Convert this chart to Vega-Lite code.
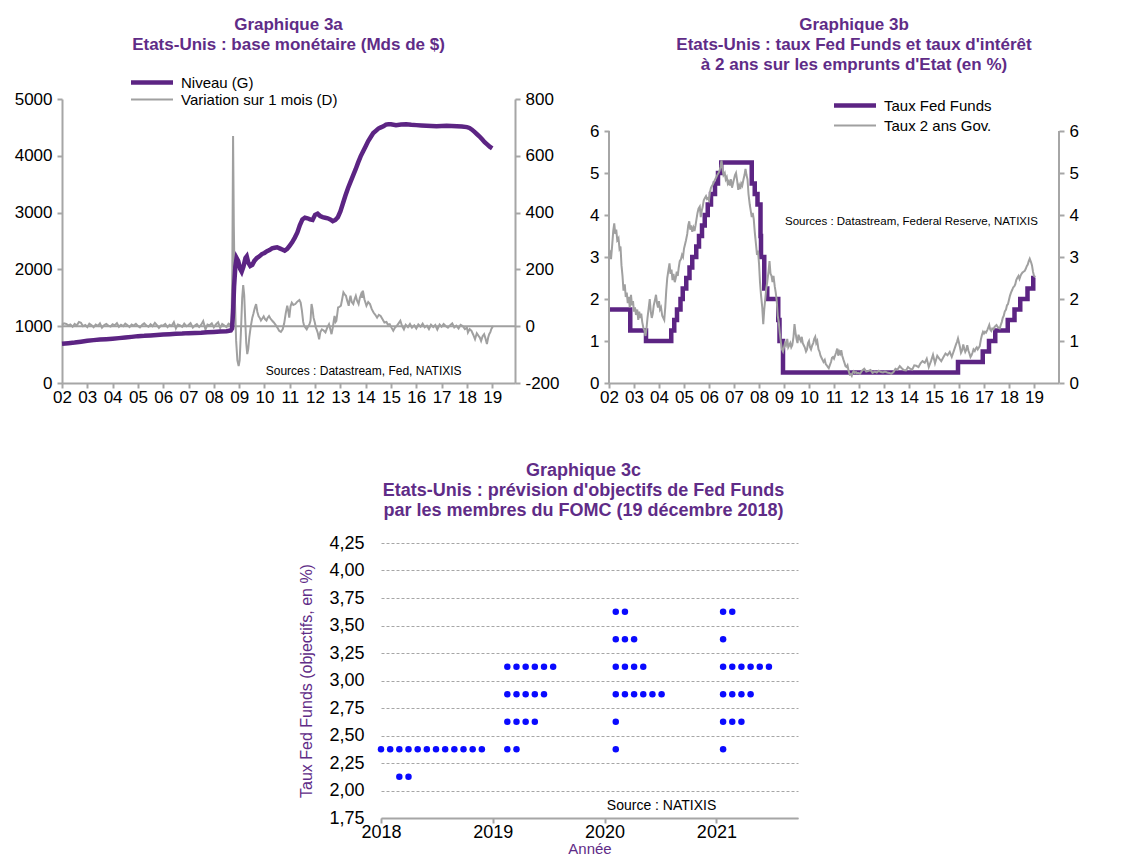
{
  "$schema": "https://vega.github.io/schema/vega-lite/v6.json",
  "background": "white",
  "padding": {"left": 14, "top": 16, "right": 0, "bottom": 0},
  "config": {
    "font": "Liberation Sans",
    "view": {"stroke": null},
    "axis": {"labelFont": "Liberation Sans", "labelFontSize": 17, "labelColor": "#000000", "domainColor": "#A6A6A6", "domainWidth": 2, "tickColor": "#A6A6A6", "tickWidth": 2, "tickSize": 5, "labelPadding": 5, "grid": false, "labelFlush": false, "labelOverlap": false, "titleFont": "Liberation Sans", "tickCount": 60},
    "title": {"font": "Liberation Sans", "fontSize": 17, "fontWeight": "bold", "color": "#5F2C87", "lineHeight": 20, "frame": "group", "anchor": "middle"},
    "legend": {"orient": "none", "labelFont": "Liberation Sans", "labelFontSize": 15, "labelColor": "#000000", "symbolType": "stroke", "symbolSize": 1764, "padding": 0, "labelOffset": 21.5}
  },
  "datasets": {
    "niveau": [
      {"t":2002.0,"v":690},{"t":2002.25,"v":700},{"t":2002.5,"v":712},{"t":2002.75,"v":728},{"t":2003.0,"v":745},{"t":2003.25,"v":755},{"t":2003.5,"v":765},{"t":2003.75,"v":772},{"t":2004.0,"v":780},{"t":2004.25,"v":790},{"t":2004.5,"v":800},{"t":2004.75,"v":812},{"t":2005.0,"v":825},{"t":2005.25,"v":830},{"t":2005.5,"v":838},{"t":2005.75,"v":845},{"t":2006.0,"v":852},{"t":2006.25,"v":858},{"t":2006.5,"v":865},{"t":2006.75,"v":870},{"t":2007.0,"v":878},{"t":2007.25,"v":882},{"t":2007.5,"v":886},{"t":2007.75,"v":893},{"t":2008.0,"v":900},{"t":2008.25,"v":905},{"t":2008.5,"v":912},{"t":2008.67,"v":925},{"t":2008.72,"v":960},{"t":2008.76,"v":1250},{"t":2008.8,"v":1700},{"t":2008.85,"v":2050},{"t":2008.9,"v":2200},{"t":2008.96,"v":2150},{"t":2009.04,"v":2010},{"t":2009.1,"v":1960},{"t":2009.17,"v":2050},{"t":2009.25,"v":2200},{"t":2009.3,"v":2230},{"t":2009.36,"v":2120},{"t":2009.44,"v":2060},{"t":2009.52,"v":2080},{"t":2009.6,"v":2150},{"t":2009.7,"v":2200},{"t":2009.8,"v":2230},{"t":2009.9,"v":2270},{"t":2010.0,"v":2290},{"t":2010.1,"v":2320},{"t":2010.2,"v":2340},{"t":2010.3,"v":2370},{"t":2010.4,"v":2380},{"t":2010.5,"v":2390},{"t":2010.6,"v":2370},{"t":2010.7,"v":2350},{"t":2010.8,"v":2330},{"t":2010.9,"v":2360},{"t":2011.0,"v":2420},{"t":2011.1,"v":2480},{"t":2011.2,"v":2560},{"t":2011.3,"v":2650},{"t":2011.4,"v":2780},{"t":2011.5,"v":2880},{"t":2011.6,"v":2910},{"t":2011.7,"v":2900},{"t":2011.8,"v":2880},{"t":2011.9,"v":2870},{"t":2012.0,"v":2960},{"t":2012.1,"v":2980},{"t":2012.2,"v":2940},{"t":2012.3,"v":2920},{"t":2012.4,"v":2910},{"t":2012.5,"v":2900},{"t":2012.6,"v":2880},{"t":2012.7,"v":2850},{"t":2012.8,"v":2870},{"t":2012.9,"v":2920},{"t":2013.0,"v":3020},{"t":2013.1,"v":3160},{"t":2013.2,"v":3300},{"t":2013.3,"v":3430},{"t":2013.4,"v":3540},{"t":2013.5,"v":3650},{"t":2013.6,"v":3760},{"t":2013.7,"v":3880},{"t":2013.8,"v":3990},{"t":2013.9,"v":4080},{"t":2014.0,"v":4170},{"t":2014.1,"v":4260},{"t":2014.2,"v":4330},{"t":2014.3,"v":4400},{"t":2014.4,"v":4440},{"t":2014.5,"v":4480},{"t":2014.6,"v":4500},{"t":2014.7,"v":4520},{"t":2014.8,"v":4550},{"t":2014.9,"v":4555},{"t":2015.0,"v":4555},{"t":2015.2,"v":4540},{"t":2015.4,"v":4550},{"t":2015.6,"v":4555},{"t":2015.8,"v":4545},{"t":2016.0,"v":4540},{"t":2016.2,"v":4535},{"t":2016.4,"v":4530},{"t":2016.6,"v":4525},{"t":2016.8,"v":4520},{"t":2017.0,"v":4525},{"t":2017.2,"v":4530},{"t":2017.4,"v":4525},{"t":2017.6,"v":4520},{"t":2017.8,"v":4515},{"t":2018.0,"v":4505},{"t":2018.1,"v":4490},{"t":2018.2,"v":4460},{"t":2018.3,"v":4420},{"t":2018.4,"v":4380},{"t":2018.5,"v":4340},{"t":2018.6,"v":4290},{"t":2018.7,"v":4240},{"t":2018.8,"v":4200},{"t":2018.9,"v":4160},{"t":2019.0,"v":4130}
    ],
    "variation": [
      {"t":2002.0,"v":5},{"t":2002.08,"v":10},{"t":2002.17,"v":8},{"t":2002.25,"v":3},{"t":2002.33,"v":6},{"t":2002.42,"v":-2},{"t":2002.5,"v":8},{"t":2002.58,"v":2},{"t":2002.67,"v":15},{"t":2002.75,"v":12},{"t":2002.83,"v":0},{"t":2002.92,"v":4},
      {"t":2003.0,"v":-3},{"t":2003.08,"v":9},{"t":2003.17,"v":3},{"t":2003.25,"v":-4},{"t":2003.33,"v":6},{"t":2003.42,"v":1},{"t":2003.5,"v":10},{"t":2003.58,"v":-5},{"t":2003.67,"v":4},{"t":2003.75,"v":8},{"t":2003.83,"v":2},{"t":2003.92,"v":-1},
      {"t":2004.0,"v":7},{"t":2004.08,"v":3},{"t":2004.17,"v":11},{"t":2004.25,"v":-2},{"t":2004.33,"v":5},{"t":2004.42,"v":0},{"t":2004.5,"v":9},{"t":2004.58,"v":4},{"t":2004.67,"v":-3},{"t":2004.75,"v":6},{"t":2004.83,"v":2},{"t":2004.92,"v":8},
      {"t":2005.0,"v":1},{"t":2005.08,"v":-4},{"t":2005.17,"v":5},{"t":2005.25,"v":10},{"t":2005.33,"v":3},{"t":2005.42,"v":-2},{"t":2005.5,"v":7},{"t":2005.58,"v":0},{"t":2005.67,"v":12},{"t":2005.75,"v":4},{"t":2005.83,"v":-6},{"t":2005.92,"v":3},
      {"t":2006.0,"v":2},{"t":2006.08,"v":8},{"t":2006.17,"v":-3},{"t":2006.25,"v":5},{"t":2006.33,"v":1},{"t":2006.42,"v":14},{"t":2006.5,"v":-8},{"t":2006.58,"v":6},{"t":2006.67,"v":3},{"t":2006.75,"v":-2},{"t":2006.83,"v":9},{"t":2006.92,"v":0},
      {"t":2007.0,"v":4},{"t":2007.08,"v":11},{"t":2007.17,"v":-5},{"t":2007.25,"v":2},{"t":2007.33,"v":7},{"t":2007.42,"v":-3},{"t":2007.5,"v":5},{"t":2007.58,"v":18},{"t":2007.67,"v":-12},{"t":2007.75,"v":6},{"t":2007.83,"v":3},{"t":2007.92,"v":10},
      {"t":2008.0,"v":-4},{"t":2008.08,"v":6},{"t":2008.17,"v":14},{"t":2008.25,"v":-6},{"t":2008.33,"v":8},{"t":2008.42,"v":2},{"t":2008.5,"v":-3},{"t":2008.58,"v":9},{"t":2008.65,"v":4},
      {"t":2008.7,"v":20},{"t":2008.73,"v":200},{"t":2008.76,"v":670},{"t":2008.79,"v":350},{"t":2008.83,"v":100},{"t":2008.88,"v":-50},{"t":2008.93,"v":-120},{"t":2008.98,"v":-140},{"t":2009.02,"v":-120},{"t":2009.07,"v":-20},{"t":2009.12,"v":100},{"t":2009.16,"v":145},{"t":2009.2,"v":110},{"t":2009.24,"v":20},{"t":2009.28,"v":-60},{"t":2009.32,"v":-98},{"t":2009.36,"v":-80},{"t":2009.4,"v":-40},{"t":2009.46,"v":0},{"t":2009.52,"v":30},{"t":2009.56,"v":43},{"t":2009.62,"v":65},{"t":2009.67,"v":78},{"t":2009.72,"v":50},{"t":2009.77,"v":35},{"t":2009.81,"v":30},{"t":2009.86,"v":20},{"t":2009.92,"v":28},{"t":2009.97,"v":35},
      {"t":2010.02,"v":25},{"t":2010.08,"v":20},{"t":2010.13,"v":30},{"t":2010.18,"v":36},{"t":2010.23,"v":28},{"t":2010.3,"v":20},{"t":2010.37,"v":13},{"t":2010.44,"v":5},{"t":2010.51,"v":-5},{"t":2010.58,"v":-16},{"t":2010.65,"v":-20},{"t":2010.72,"v":-11},{"t":2010.78,"v":10},{"t":2010.84,"v":45},{"t":2010.9,"v":72},{"t":2010.94,"v":55},{"t":2010.98,"v":30},
      {"t":2011.03,"v":70},{"t":2011.08,"v":83},{"t":2011.14,"v":75},{"t":2011.22,"v":78},{"t":2011.28,"v":85},{"t":2011.33,"v":89},{"t":2011.38,"v":92},{"t":2011.43,"v":83},{"t":2011.48,"v":55},{"t":2011.53,"v":15},{"t":2011.57,"v":1},{"t":2011.62,"v":-5},{"t":2011.67,"v":-11},{"t":2011.72,"v":-2},{"t":2011.78,"v":7},{"t":2011.82,"v":20},{"t":2011.86,"v":78},{"t":2011.9,"v":60},{"t":2011.94,"v":30},{"t":2011.99,"v":13},
      {"t":2012.03,"v":-5},{"t":2012.06,"v":-11},{"t":2012.11,"v":-25},{"t":2012.16,"v":-46},{"t":2012.21,"v":-20},{"t":2012.27,"v":-11},{"t":2012.34,"v":-15},{"t":2012.41,"v":-22},{"t":2012.48,"v":-5},{"t":2012.55,"v":7},{"t":2012.6,"v":-10},{"t":2012.65,"v":-28},{"t":2012.7,"v":-5},{"t":2012.74,"v":20},{"t":2012.77,"v":36},{"t":2012.81,"v":15},{"t":2012.84,"v":19},{"t":2012.88,"v":45},{"t":2012.91,"v":66},{"t":2012.96,"v":68},
      {"t":2013.02,"v":72},{"t":2013.07,"v":95},{"t":2013.12,"v":119},{"t":2013.17,"v":112},{"t":2013.22,"v":107},{"t":2013.27,"v":90},{"t":2013.33,"v":72},{"t":2013.37,"v":95},{"t":2013.4,"v":107},{"t":2013.45,"v":85},{"t":2013.51,"v":78},{"t":2013.56,"v":95},{"t":2013.61,"v":107},{"t":2013.66,"v":90},{"t":2013.72,"v":78},{"t":2013.77,"v":100},{"t":2013.82,"v":113},{"t":2013.86,"v":100},{"t":2013.89,"v":125},{"t":2013.95,"v":95},
      {"t":2014.03,"v":72},{"t":2014.1,"v":85},{"t":2014.17,"v":78},{"t":2014.24,"v":60},{"t":2014.31,"v":48},{"t":2014.38,"v":40},{"t":2014.45,"v":30},{"t":2014.52,"v":40},{"t":2014.59,"v":36},{"t":2014.66,"v":25},{"t":2014.74,"v":13},{"t":2014.82,"v":15},{"t":2014.88,"v":5},{"t":2014.95,"v":7},
      {"t":2015.02,"v":-5},{"t":2015.09,"v":-16},{"t":2015.16,"v":-5},{"t":2015.23,"v":1},{"t":2015.3,"v":10},{"t":2015.37,"v":19},{"t":2015.44,"v":0},{"t":2015.51,"v":-11},{"t":2015.58,"v":5},{"t":2015.67,"v":-3},{"t":2015.75,"v":8},{"t":2015.83,"v":-5},{"t":2015.92,"v":3},
      {"t":2016.0,"v":-8},{"t":2016.08,"v":6},{"t":2016.17,"v":-2},{"t":2016.25,"v":9},{"t":2016.33,"v":-4},{"t":2016.42,"v":2},{"t":2016.5,"v":-10},{"t":2016.58,"v":5},{"t":2016.67,"v":-3},{"t":2016.75,"v":4},{"t":2016.83,"v":-12},{"t":2016.92,"v":6},
      {"t":2017.0,"v":-2},{"t":2017.08,"v":8},{"t":2017.17,"v":0},{"t":2017.25,"v":-5},{"t":2017.33,"v":3},{"t":2017.42,"v":10},{"t":2017.5,"v":-4},{"t":2017.58,"v":2},{"t":2017.67,"v":-8},{"t":2017.75,"v":5},{"t":2017.83,"v":1},{"t":2017.92,"v":-10},
      {"t":2018.0,"v":-5},{"t":2018.04,"v":-22},{"t":2018.11,"v":-10},{"t":2018.18,"v":-16},{"t":2018.25,"v":-30},{"t":2018.32,"v":-46},{"t":2018.39,"v":-25},{"t":2018.46,"v":-34},{"t":2018.51,"v":-40},{"t":2018.56,"v":-52},{"t":2018.62,"v":-35},{"t":2018.68,"v":-28},{"t":2018.74,"v":-45},{"t":2018.79,"v":-63},{"t":2018.84,"v":-40},{"t":2018.88,"v":-28},{"t":2018.93,"v":-20},{"t":2018.96,"v":-11},{"t":2019.03,"v":1}
    ],
    "fedfunds": [
      {"t":2002.0,"v":1.75},{"t":2002.85,"v":1.25},{"t":2003.48,"v":1.0},{"t":2004.49,"v":1.25},{"t":2004.61,"v":1.5},{"t":2004.72,"v":1.75},{"t":2004.86,"v":2.0},{"t":2004.95,"v":2.25},{"t":2005.09,"v":2.5},{"t":2005.22,"v":2.75},{"t":2005.33,"v":3.0},{"t":2005.49,"v":3.25},{"t":2005.6,"v":3.5},{"t":2005.72,"v":3.75},{"t":2005.83,"v":4.0},{"t":2005.95,"v":4.25},{"t":2006.08,"v":4.5},{"t":2006.24,"v":4.75},{"t":2006.36,"v":5.0},{"t":2006.49,"v":5.25},{"t":2007.71,"v":4.75},{"t":2007.83,"v":4.5},{"t":2007.94,"v":4.25},{"t":2008.06,"v":3.5},{"t":2008.08,"v":3.0},{"t":2008.21,"v":2.25},{"t":2008.33,"v":2.0},{"t":2008.77,"v":1.5},{"t":2008.82,"v":1.0},{"t":2008.96,"v":0.25},{"t":2015.96,"v":0.5},{"t":2016.95,"v":0.75},{"t":2017.2,"v":1.0},{"t":2017.45,"v":1.25},{"t":2017.95,"v":1.5},{"t":2018.22,"v":1.75},{"t":2018.45,"v":2.0},{"t":2018.74,"v":2.25},{"t":2018.97,"v":2.5},{"t":2019.05,"v":2.5}
    ],
    "taux2": [
      {"t":2002.0,"v":3.05},{"t":2002.04,"v":3.1},{"t":2002.08,"v":2.95},{"t":2002.13,"v":3.3},{"t":2002.17,"v":3.62},{"t":2002.21,"v":3.8},{"t":2002.25,"v":3.55},{"t":2002.29,"v":3.65},{"t":2002.33,"v":3.4},{"t":2002.38,"v":3.45},{"t":2002.42,"v":3.2},{"t":2002.46,"v":3.25},{"t":2002.5,"v":2.8},{"t":2002.54,"v":2.55},{"t":2002.58,"v":2.2},{"t":2002.63,"v":2.35},{"t":2002.67,"v":2.05},{"t":2002.71,"v":2.15},{"t":2002.75,"v":1.9},{"t":2002.79,"v":2.05},{"t":2002.83,"v":1.8},{"t":2002.88,"v":2.1},{"t":2002.92,"v":1.85},{"t":2002.96,"v":1.95},
      {"t":2003.0,"v":1.7},{"t":2003.04,"v":1.8},{"t":2003.08,"v":1.62},{"t":2003.13,"v":1.75},{"t":2003.17,"v":1.5},{"t":2003.21,"v":1.7},{"t":2003.25,"v":1.55},{"t":2003.29,"v":1.65},{"t":2003.33,"v":1.45},{"t":2003.38,"v":1.3},{"t":2003.42,"v":1.25},{"t":2003.46,"v":1.12},{"t":2003.5,"v":1.3},{"t":2003.54,"v":1.55},{"t":2003.58,"v":1.75},{"t":2003.63,"v":2.0},{"t":2003.67,"v":1.7},{"t":2003.71,"v":1.55},{"t":2003.75,"v":1.65},{"t":2003.79,"v":1.85},{"t":2003.83,"v":1.95},{"t":2003.88,"v":2.1},{"t":2003.92,"v":1.9},{"t":2003.96,"v":1.8},
      {"t":2004.0,"v":1.95},{"t":2004.04,"v":1.75},{"t":2004.08,"v":1.8},{"t":2004.13,"v":1.6},{"t":2004.17,"v":1.55},{"t":2004.21,"v":1.5},{"t":2004.25,"v":1.8},{"t":2004.29,"v":2.2},{"t":2004.33,"v":2.5},{"t":2004.38,"v":2.7},{"t":2004.42,"v":2.85},{"t":2004.46,"v":2.6},{"t":2004.5,"v":2.7},{"t":2004.54,"v":2.45},{"t":2004.58,"v":2.6},{"t":2004.63,"v":2.4},{"t":2004.67,"v":2.5},{"t":2004.71,"v":2.65},{"t":2004.75,"v":2.55},{"t":2004.79,"v":2.75},{"t":2004.83,"v":2.9},{"t":2004.88,"v":2.95},{"t":2004.92,"v":3.05},{"t":2004.96,"v":3.0},
      {"t":2005.0,"v":3.2},{"t":2005.04,"v":3.3},{"t":2005.08,"v":3.4},{"t":2005.13,"v":3.55},{"t":2005.17,"v":3.75},{"t":2005.21,"v":3.85},{"t":2005.25,"v":3.65},{"t":2005.29,"v":3.75},{"t":2005.33,"v":3.6},{"t":2005.38,"v":3.7},{"t":2005.42,"v":3.62},{"t":2005.46,"v":3.75},{"t":2005.5,"v":3.9},{"t":2005.54,"v":4.05},{"t":2005.58,"v":4.15},{"t":2005.63,"v":4.2},{"t":2005.67,"v":3.95},{"t":2005.71,"v":4.1},{"t":2005.75,"v":4.2},{"t":2005.79,"v":4.35},{"t":2005.83,"v":4.4},{"t":2005.88,"v":4.45},{"t":2005.92,"v":4.38},{"t":2005.96,"v":4.4},
      {"t":2006.0,"v":4.35},{"t":2006.04,"v":4.55},{"t":2006.08,"v":4.65},{"t":2006.13,"v":4.7},{"t":2006.17,"v":4.75},{"t":2006.21,"v":4.8},{"t":2006.25,"v":4.85},{"t":2006.29,"v":4.9},{"t":2006.33,"v":4.95},{"t":2006.38,"v":5.0},{"t":2006.42,"v":5.05},{"t":2006.46,"v":5.15},{"t":2006.5,"v":5.3},{"t":2006.54,"v":5.1},{"t":2006.58,"v":4.95},{"t":2006.63,"v":5.0},{"t":2006.67,"v":4.85},{"t":2006.71,"v":4.9},{"t":2006.75,"v":4.75},{"t":2006.79,"v":4.8},{"t":2006.83,"v":4.7},{"t":2006.88,"v":4.85},{"t":2006.92,"v":4.65},{"t":2006.96,"v":4.75},
      {"t":2007.0,"v":4.85},{"t":2007.04,"v":4.95},{"t":2007.08,"v":5.0},{"t":2007.13,"v":4.8},{"t":2007.17,"v":4.6},{"t":2007.21,"v":4.7},{"t":2007.25,"v":4.62},{"t":2007.29,"v":4.75},{"t":2007.33,"v":4.7},{"t":2007.38,"v":4.85},{"t":2007.42,"v":4.95},{"t":2007.46,"v":5.1},{"t":2007.5,"v":4.95},{"t":2007.54,"v":4.85},{"t":2007.58,"v":4.5},{"t":2007.63,"v":4.25},{"t":2007.67,"v":4.1},{"t":2007.71,"v":3.95},{"t":2007.75,"v":4.05},{"t":2007.79,"v":3.9},{"t":2007.83,"v":3.6},{"t":2007.88,"v":3.3},{"t":2007.92,"v":3.05},{"t":2007.96,"v":3.15},
      {"t":2008.0,"v":2.85},{"t":2008.04,"v":2.4},{"t":2008.08,"v":2.1},{"t":2008.13,"v":1.8},{"t":2008.17,"v":1.4},{"t":2008.21,"v":1.75},{"t":2008.25,"v":2.0},{"t":2008.29,"v":2.25},{"t":2008.33,"v":2.4},{"t":2008.38,"v":2.65},{"t":2008.42,"v":2.9},{"t":2008.46,"v":2.6},{"t":2008.5,"v":2.55},{"t":2008.54,"v":2.4},{"t":2008.58,"v":2.55},{"t":2008.63,"v":2.3},{"t":2008.67,"v":2.15},{"t":2008.71,"v":1.95},{"t":2008.75,"v":1.6},{"t":2008.79,"v":1.45},{"t":2008.83,"v":1.2},{"t":2008.88,"v":0.95},{"t":2008.92,"v":0.8},{"t":2008.96,"v":0.75},
      {"t":2009.0,"v":0.85},{"t":2009.04,"v":0.95},{"t":2009.08,"v":0.9},{"t":2009.13,"v":1.05},{"t":2009.17,"v":0.85},{"t":2009.21,"v":0.9},{"t":2009.25,"v":0.95},{"t":2009.29,"v":0.85},{"t":2009.33,"v":0.9},{"t":2009.38,"v":1.1},{"t":2009.42,"v":1.4},{"t":2009.46,"v":1.2},{"t":2009.5,"v":1.05},{"t":2009.54,"v":0.95},{"t":2009.58,"v":1.15},{"t":2009.63,"v":1.05},{"t":2009.67,"v":1.0},{"t":2009.71,"v":1.1},{"t":2009.75,"v":0.95},{"t":2009.79,"v":0.9},{"t":2009.83,"v":0.85},{"t":2009.88,"v":0.75},{"t":2009.92,"v":0.8},{"t":2009.96,"v":0.95},
      {"t":2010.0,"v":1.0},{"t":2010.04,"v":0.85},{"t":2010.08,"v":0.8},{"t":2010.13,"v":0.9},{"t":2010.17,"v":0.95},{"t":2010.21,"v":1.05},{"t":2010.25,"v":1.1},{"t":2010.29,"v":0.95},{"t":2010.33,"v":1.0},{"t":2010.38,"v":0.8},{"t":2010.42,"v":0.75},{"t":2010.46,"v":0.65},{"t":2010.5,"v":0.6},{"t":2010.54,"v":0.55},{"t":2010.58,"v":0.5},{"t":2010.63,"v":0.55},{"t":2010.67,"v":0.45},{"t":2010.71,"v":0.42},{"t":2010.75,"v":0.38},{"t":2010.79,"v":0.35},{"t":2010.83,"v":0.42},{"t":2010.88,"v":0.5},{"t":2010.92,"v":0.6},{"t":2010.96,"v":0.62},
      {"t":2011.0,"v":0.58},{"t":2011.04,"v":0.65},{"t":2011.08,"v":0.72},{"t":2011.13,"v":0.82},{"t":2011.17,"v":0.65},{"t":2011.21,"v":0.75},{"t":2011.25,"v":0.7},{"t":2011.29,"v":0.78},{"t":2011.33,"v":0.65},{"t":2011.38,"v":0.55},{"t":2011.42,"v":0.48},{"t":2011.46,"v":0.4},{"t":2011.5,"v":0.38},{"t":2011.54,"v":0.42},{"t":2011.58,"v":0.3},{"t":2011.63,"v":0.2},{"t":2011.67,"v":0.21},{"t":2011.71,"v":0.17},{"t":2011.75,"v":0.25},{"t":2011.79,"v":0.28},{"t":2011.83,"v":0.24},{"t":2011.88,"v":0.26},{"t":2011.92,"v":0.23},{"t":2011.96,"v":0.24},
      {"t":2012.04,"v":0.22},{"t":2012.13,"v":0.3},{"t":2012.21,"v":0.34},{"t":2012.29,"v":0.27},{"t":2012.38,"v":0.29},{"t":2012.46,"v":0.31},{"t":2012.54,"v":0.24},{"t":2012.63,"v":0.27},{"t":2012.71,"v":0.25},{"t":2012.79,"v":0.29},{"t":2012.88,"v":0.26},{"t":2012.96,"v":0.25},
      {"t":2013.04,"v":0.27},{"t":2013.13,"v":0.25},{"t":2013.21,"v":0.24},{"t":2013.29,"v":0.22},{"t":2013.38,"v":0.26},{"t":2013.46,"v":0.34},{"t":2013.54,"v":0.32},{"t":2013.63,"v":0.4},{"t":2013.71,"v":0.35},{"t":2013.79,"v":0.31},{"t":2013.88,"v":0.3},{"t":2013.96,"v":0.38},
      {"t":2014.04,"v":0.34},{"t":2014.13,"v":0.32},{"t":2014.21,"v":0.42},{"t":2014.29,"v":0.41},{"t":2014.38,"v":0.38},{"t":2014.46,"v":0.47},{"t":2014.54,"v":0.52},{"t":2014.63,"v":0.48},{"t":2014.71,"v":0.58},{"t":2014.79,"v":0.38},{"t":2014.88,"v":0.52},{"t":2014.96,"v":0.67},
      {"t":2015.04,"v":0.47},{"t":2015.13,"v":0.65},{"t":2015.21,"v":0.58},{"t":2015.29,"v":0.52},{"t":2015.38,"v":0.62},{"t":2015.46,"v":0.7},{"t":2015.54,"v":0.66},{"t":2015.63,"v":0.74},{"t":2015.71,"v":0.62},{"t":2015.79,"v":0.76},{"t":2015.88,"v":0.92},{"t":2015.92,"v":0.98},{"t":2015.96,"v":1.06},
      {"t":2016.0,"v":0.96},{"t":2016.04,"v":0.85},{"t":2016.08,"v":0.72},{"t":2016.13,"v":0.78},{"t":2016.17,"v":0.92},{"t":2016.21,"v":0.82},{"t":2016.25,"v":0.74},{"t":2016.29,"v":0.79},{"t":2016.33,"v":0.9},{"t":2016.38,"v":0.76},{"t":2016.42,"v":0.7},{"t":2016.46,"v":0.62},{"t":2016.5,"v":0.66},{"t":2016.54,"v":0.72},{"t":2016.58,"v":0.8},{"t":2016.63,"v":0.76},{"t":2016.67,"v":0.82},{"t":2016.71,"v":0.85},{"t":2016.75,"v":0.8},{"t":2016.79,"v":0.84},{"t":2016.83,"v":0.88},{"t":2016.88,"v":1.05},{"t":2016.92,"v":1.15},{"t":2016.96,"v":1.22},
      {"t":2017.0,"v":1.18},{"t":2017.04,"v":1.22},{"t":2017.08,"v":1.2},{"t":2017.13,"v":1.26},{"t":2017.17,"v":1.32},{"t":2017.21,"v":1.38},{"t":2017.25,"v":1.27},{"t":2017.29,"v":1.24},{"t":2017.33,"v":1.3},{"t":2017.38,"v":1.28},{"t":2017.42,"v":1.33},{"t":2017.46,"v":1.36},{"t":2017.5,"v":1.38},{"t":2017.54,"v":1.34},{"t":2017.58,"v":1.31},{"t":2017.63,"v":1.3},{"t":2017.67,"v":1.38},{"t":2017.71,"v":1.45},{"t":2017.75,"v":1.55},{"t":2017.79,"v":1.6},{"t":2017.83,"v":1.7},{"t":2017.88,"v":1.75},{"t":2017.92,"v":1.85},{"t":2017.96,"v":1.88},
      {"t":2018.0,"v":1.98},{"t":2018.04,"v":2.08},{"t":2018.08,"v":2.15},{"t":2018.13,"v":2.22},{"t":2018.17,"v":2.28},{"t":2018.21,"v":2.3},{"t":2018.25,"v":2.35},{"t":2018.29,"v":2.45},{"t":2018.33,"v":2.5},{"t":2018.38,"v":2.55},{"t":2018.42,"v":2.48},{"t":2018.46,"v":2.55},{"t":2018.5,"v":2.6},{"t":2018.54,"v":2.63},{"t":2018.58,"v":2.65},{"t":2018.63,"v":2.67},{"t":2018.67,"v":2.72},{"t":2018.71,"v":2.78},{"t":2018.75,"v":2.82},{"t":2018.79,"v":2.9},{"t":2018.83,"v":2.96},{"t":2018.88,"v":2.88},{"t":2018.92,"v":2.8},{"t":2018.96,"v":2.65},{"t":2019.0,"v":2.55},{"t":2019.04,"v":2.52}
    ],
    "dots": [
      {"x":2018.0,"y":2.375},{"x":2018.082,"y":2.375},{"x":2018.164,"y":2.375},{"x":2018.246,"y":2.375},{"x":2018.328,"y":2.375},{"x":2018.41,"y":2.375},{"x":2018.492,"y":2.375},{"x":2018.574,"y":2.375},{"x":2018.656,"y":2.375},{"x":2018.738,"y":2.375},{"x":2018.82,"y":2.375},{"x":2018.902,"y":2.375},
      {"x":2018.164,"y":2.125},{"x":2018.246,"y":2.125},
      {"x":2019.13,"y":2.375},{"x":2019.212,"y":2.375},
      {"x":2019.13,"y":2.625},{"x":2019.212,"y":2.625},{"x":2019.294,"y":2.625},{"x":2019.376,"y":2.625},
      {"x":2019.13,"y":2.875},{"x":2019.212,"y":2.875},{"x":2019.294,"y":2.875},{"x":2019.376,"y":2.875},{"x":2019.458,"y":2.875},
      {"x":2019.13,"y":3.125},{"x":2019.212,"y":3.125},{"x":2019.294,"y":3.125},{"x":2019.376,"y":3.125},{"x":2019.458,"y":3.125},{"x":2019.54,"y":3.125},
      {"x":2020.1,"y":2.375},
      {"x":2020.1,"y":2.625},
      {"x":2020.1,"y":2.875},{"x":2020.182,"y":2.875},{"x":2020.264,"y":2.875},{"x":2020.346,"y":2.875},{"x":2020.428,"y":2.875},{"x":2020.51,"y":2.875},
      {"x":2020.1,"y":3.125},{"x":2020.182,"y":3.125},{"x":2020.264,"y":3.125},{"x":2020.346,"y":3.125},
      {"x":2020.1,"y":3.375},{"x":2020.182,"y":3.375},{"x":2020.264,"y":3.375},
      {"x":2020.1,"y":3.625},{"x":2020.182,"y":3.625},
      {"x":2021.06,"y":2.375},
      {"x":2021.06,"y":2.625},{"x":2021.142,"y":2.625},{"x":2021.224,"y":2.625},
      {"x":2021.06,"y":2.875},{"x":2021.142,"y":2.875},{"x":2021.224,"y":2.875},{"x":2021.306,"y":2.875},
      {"x":2021.06,"y":3.125},{"x":2021.142,"y":3.125},{"x":2021.224,"y":3.125},{"x":2021.306,"y":3.125},{"x":2021.388,"y":3.125},{"x":2021.47,"y":3.125},
      {"x":2021.06,"y":3.375},
      {"x":2021.06,"y":3.625},{"x":2021.142,"y":3.625}
    ]
  },
  "vconcat": [
    {
      "hconcat": [
        {
          "width": 453,
          "height": 284,
          "title": {"text": ["Graphique 3a", "Etats-Unis : base monétaire (Mds de $)"], "offset": 21},
          "layer": [
            {
              "layer": [
                {
                  "data": {"name": "variation"},
                  "mark": {"type": "line", "strokeWidth": 2},
                  "encoding": {
                    "x": {"field": "t", "type": "quantitative", "scale": {"domain": [2002, 2019.9], "nice": false, "zero": false}, "axis": {"title": null, "values": [2002,2003,2004,2005,2006,2007,2008,2009,2010,2011,2012,2013,2014,2015,2016,2017,2018,2019], "tickCount": 60, "labelExpr": "substring(toString(datum.value), 2)", "labelOverlap": false, "labelPadding": 1}},
                    "y": {"field": "v", "type": "quantitative", "scale": {"domain": [-200, 800], "nice": false, "zero": false}, "axis": {"orient": "right", "title": null, "values": [-200, 0, 200, 400, 600, 800], "tickCount": 60, "labelExpr": "toString(datum.value)", "labelOverlap": false}},
                    "color": {"datum": "Variation sur 1 mois (D)", "type": "nominal", "scale": {"domain": ["Niveau (G)", "Variation sur 1 mois (D)"], "range": ["#5C2483", "#A0A0A0"]}, "legend": {"title": null, "legendX": 82.5, "legendY": -24, "rowPadding": 0, "encode": {"symbols": {"update": {"strokeWidth": {"signal": "datum.value === 'Niveau (G)' ? 4.5 : 2"}}}}}}
                  }
                },
                {
                  "data": {"values": [{}]},
                  "mark": {"type": "rule", "color": "#A0A0A0", "strokeWidth": 2},
                  "encoding": {"y": {"datum": 0}}
                }
              ]
            },
            {
              "layer": [
                {
                  "data": {"name": "niveau"},
                  "mark": {"type": "line", "strokeWidth": 4.5},
                  "encoding": {
                    "x": {"field": "t", "type": "quantitative"},
                    "y": {"field": "v", "type": "quantitative", "scale": {"domain": [0, 5000], "nice": false}, "axis": {"orient": "left", "title": null, "values": [0, 1000, 2000, 3000, 4000, 5000], "tickCount": 60, "labelExpr": "toString(datum.value)", "labelOverlap": false}},
                    "color": {"datum": "Niveau (G)", "type": "nominal"}
                  }
                },
                {
                  "data": {"values": [{}]},
                  "mark": {"type": "text", "align": "left", "baseline": "middle", "fontSize": 12, "color": "#000000"},
                  "encoding": {"x": {"datum": 2010.05}, "y": {"datum": 205}, "text": {"value": "Sources : Datastream, Fed, NATIXIS"}}
                }
              ]
            }
          ],
          "resolve": {"scale": {"y": "independent"}}
        },
        {
          "width": 450,
          "height": 284,
          "title": {"text": ["Graphique 3b", "Etats-Unis : taux Fed Funds et taux d'intérêt", "à 2 ans sur les emprunts d'Etat (en %)"], "offset": 24, "dx": 20},
          "layer": [
            {
              "layer": [
                {
                  "data": {"name": "fedfunds"},
                  "mark": {"type": "line", "strokeWidth": 4.5, "interpolate": "step-after"},
                  "encoding": {
                    "x": {"field": "t", "type": "quantitative", "scale": {"domain": [2002, 2020], "nice": false, "zero": false}, "axis": {"title": null, "values": [2002,2003,2004,2005,2006,2007,2008,2009,2010,2011,2012,2013,2014,2015,2016,2017,2018,2019], "tickCount": 60, "labelExpr": "substring(toString(datum.value), 2)", "labelOverlap": false, "labelPadding": 1}},
                    "y": {"field": "v", "type": "quantitative", "scale": {"domain": [0, 6.762], "nice": false}, "axis": {"orient": "left", "title": null, "domain": false, "values": [0, 1, 2, 3, 4, 5, 6], "tickCount": 60, "labelExpr": "toString(datum.value)", "labelOverlap": false}},
                    "color": {"datum": "Taux Fed Funds", "type": "nominal", "scale": {"domain": ["Taux Fed Funds", "Taux 2 ans Gov."], "range": ["#5C2483", "#A0A0A0"]}, "legend": {"title": null, "legendX": 238.5, "legendY": -1, "rowPadding": 3, "encode": {"symbols": {"update": {"strokeWidth": {"signal": "datum.value === 'Taux Fed Funds' ? 4.5 : 2"}}}}}}
                  }
                },
                {
                  "data": {"values": [{}]},
                  "mark": {"type": "rule", "color": "#A6A6A6", "strokeWidth": 2},
                  "encoding": {"x": {"datum": 2002}, "y": {"datum": 0}, "y2": {"datum": 6}}
                },
                {
                  "data": {"values": [{}]},
                  "mark": {"type": "rule", "color": "#A6A6A6", "strokeWidth": 2},
                  "encoding": {"x": {"datum": 2020}, "y": {"datum": 0}, "y2": {"datum": 6}}
                },
                {
                  "data": {"values": [{}]},
                  "mark": {"type": "text", "align": "left", "baseline": "middle", "fontSize": 11.5, "color": "#000000"},
                  "encoding": {"x": {"datum": 2009.04}, "y": {"datum": 3.83}, "text": {"value": "Sources : Datastream, Federal Reserve, NATIXIS"}}
                }
              ]
            },
            {
              "data": {"name": "taux2"},
              "mark": {"type": "line", "strokeWidth": 2},
              "encoding": {
                "x": {"field": "t", "type": "quantitative"},
                "y": {"field": "v", "type": "quantitative", "scale": {"domain": [0, 6.762], "nice": false}, "axis": {"orient": "right", "title": null, "domain": false, "values": [0, 1, 2, 3, 4, 5, 6], "tickCount": 60, "labelExpr": "toString(datum.value)", "labelOverlap": false}},
                "color": {"datum": "Taux 2 ans Gov.", "type": "nominal"}
              }
            }
          ],
          "resolve": {"scale": {"y": "independent"}}
        }
      ],
      "spacing": 29,
      "resolve": {"scale": {"color": "independent"}, "legend": {"color": "independent"}}
    },
    {
      "hconcat": [
        {
          "width": 216,
          "height": 10,
          "data": {"values": []},
          "mark": {"type": "point"}
        },
        {
          "width": 417,
          "height": 275,
          "title": {"text": ["Graphique 3c", "Etats-Unis : prévision d'objectifs de Fed Funds", "par les membres du FOMC (19 décembre  2018)"], "offset": 14, "dx": -6, "fontSize": 18},
          "layer": [
            {
              "data": {"name": "dots"},
              "mark": {"type": "point", "filled": true, "size": 42, "color": "#0A0AFF", "opacity": 1},
              "encoding": {
                "x": {"field": "x", "type": "quantitative", "scale": {"domain": [2018, 2021.73], "nice": false, "zero": false}, "axis": {"values": [2018, 2019, 2020, 2021], "tickCount": 60, "format": "d", "labelFontSize": 18, "labelPadding": 0, "labelOverlap": false, "title": "Année", "titleColor": "#5F2C87", "titleFontSize": 15, "titleFontWeight": "normal", "titlePadding": 0}},
                "y": {"field": "y", "type": "quantitative", "scale": {"domain": [1.75, 4.25], "nice": false, "zero": false}, "axis": {"values": [1.75, 2, 2.25, 2.5, 2.75, 3, 3.25, 3.5, 3.75, 4, 4.25], "tickCount": 60, "labelExpr": "replace(format(datum.value, '.2f'), '.', ',')", "labelFontSize": 18, "labelOverlap": false, "domain": false, "ticks": false, "labelPadding": 17, "grid": true, "gridColor": "#A6A6A6", "gridDash": [3, 2], "gridWidth": 1, "title": "Taux Fed Funds (objectifs, en %)", "titleColor": "#5F2C87", "titleFontSize": 16, "titleFontWeight": "normal", "titlePadding": 14}}
              }
            },
            {
              "data": {"values": [{}]},
              "mark": {"type": "text", "align": "left", "baseline": "middle", "fontSize": 14, "color": "#000000"},
              "encoding": {"x": {"datum": 2020.02}, "y": {"datum": 1.86}, "text": {"value": "Source : NATIXIS"}}
            }
          ]
        }
      ],
      "spacing": 20
    }
  ],
  "spacing": 57
}
